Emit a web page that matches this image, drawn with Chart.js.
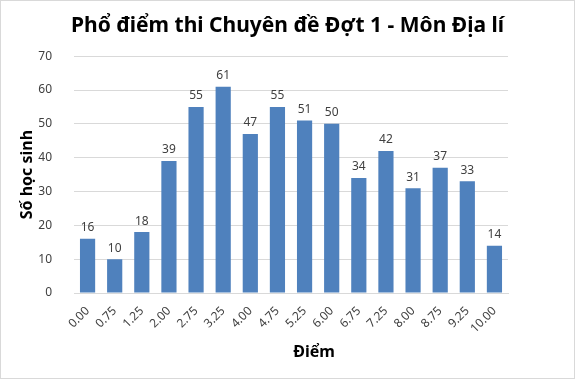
<!DOCTYPE html>
<html>
<head>
<meta charset="utf-8">
<script src="https://cdn.jsdelivr.net/npm/chart.js@4/dist/chart.umd.min.js"></script>
<style>
  html, body { margin: 0; padding: 0; background: #fff; }
  canvas { display: block; }
</style>
</head>
<body>
<canvas id="scoreChart" width="575" height="379"></canvas>
<script>
// Phổ điểm
const categories = ['0.00', '0.75', '1.25', '2.00', '2.75', '3.25', '4.00', '4.75',
  '5.25', '6.00', '6.75', '7.25', '8.00', '8.75', '9.25', '10.00'];
const studentCounts = [16, 10, 18, 39, 55, 61, 47, 55, 51, 50, 34, 42, 31, 37, 33, 14];
const yTicks = [0, 10, 20, 30, 40, 50, 60, 70];

const FONT = "'Noto Sans', 'DejaVu Sans', sans-serif";

// white background + thin frame
const frame = {
  id: 'frame',
  beforeDraw(chart) {
    const ctx = chart.ctx;
    ctx.save();
    ctx.fillStyle = '#fff';
    ctx.fillRect(0, 0, chart.width, chart.height);
    ctx.strokeStyle = '#d9d9d9';
    ctx.lineWidth = 1;
    ctx.strokeRect(0.5, 0.5, chart.width - 1, chart.height - 1);
    ctx.restore();
  }
};

// value labels above each bar + x axis title (sits a bit right of centre, like Excel)
const barLabels = {
  id: 'barLabels',
  afterDatasetsDraw(chart) {
    const ctx = chart.ctx;
    const meta = chart.getDatasetMeta(0);
    ctx.save();
    ctx.font = '12px ' + FONT;
    ctx.fillStyle = '#404040';
    ctx.textAlign = 'center';
    ctx.textBaseline = 'bottom';
    meta.data.forEach(function(bar, i) {
      ctx.fillText(studentCounts[i], bar.x, bar.y - 5);
    });
    ctx.font = 'bold 16px ' + FONT;
    ctx.fillStyle = '#000';
    ctx.textBaseline = 'middle';
    const a = chart.chartArea;
    ctx.fillText('Điểm', (a.left + a.right) / 2 + 23, 352);
    ctx.restore();
  }
};

document.addEventListener('DOMContentLoaded', function() {
  const ctx = document.getElementById('scoreChart').getContext('2d');
  new Chart(ctx, {
    type: 'bar',
    data: {
      labels: categories,
      datasets: [{
        data: studentCounts,
        backgroundColor: '#4f81bd',
        categoryPercentage: 0.56,
        barPercentage: 1.0
      }]
    },
    options: {
      responsive: false,
      animation: false,
      devicePixelRatio: 1,
      layout: { padding: 0 },
      plugins: {
        legend: { display: false },
        tooltip: { enabled: false },
        title: {
          display: true,
          text: 'Phổ điểm thi Chuyên đề Đợt 1 - Môn Địa lí',
          color: '#000',
          font: { family: FONT, size: 21, weight: 'bold', lineHeight: 1.2 },
          padding: { top: 13, bottom: 18 }
        }
      },
      scales: {
        x: {
          grid: { display: false },
          border: { display: true, color: '#d9d9d9' },
          ticks: {
            color: '#404040',
            font: { family: FONT, size: 12 },
            minRotation: 45,
            maxRotation: 45,
            padding: 3
          },
          afterFit: function(scale) { scale.height = 86; }
        },
        y: {
          min: 0,
          max: 70,
          afterBuildTicks: function(scale) {
            scale.ticks = yTicks.map(function(v) { return { value: v }; });
          },
          grid: { color: '#d9d9d9', drawTicks: false },
          border: { display: false },
          ticks: {
            color: '#404040',
            font: { family: FONT, size: 12 },
            padding: 22
          },
          title: {
            display: true,
            text: 'Số học sinh',
            color: '#000',
            font: { family: FONT, size: 16, weight: 'bold', lineHeight: 1.2 },
            padding: { top: 18, bottom: 0 }
          },
          afterFit: function(scale) { scale.width = 74; }
        },
        // empty spacer on the right so the title stays centred on the whole picture
        yRight: {
          position: 'right',
          display: true,
          grid: { display: false },
          border: { display: false },
          ticks: { display: false },
          afterFit: function(scale) { scale.width = 67; }
        }
      }
    },
    plugins: [frame, barLabels]
  });
});
</script>
</body>
</html>
